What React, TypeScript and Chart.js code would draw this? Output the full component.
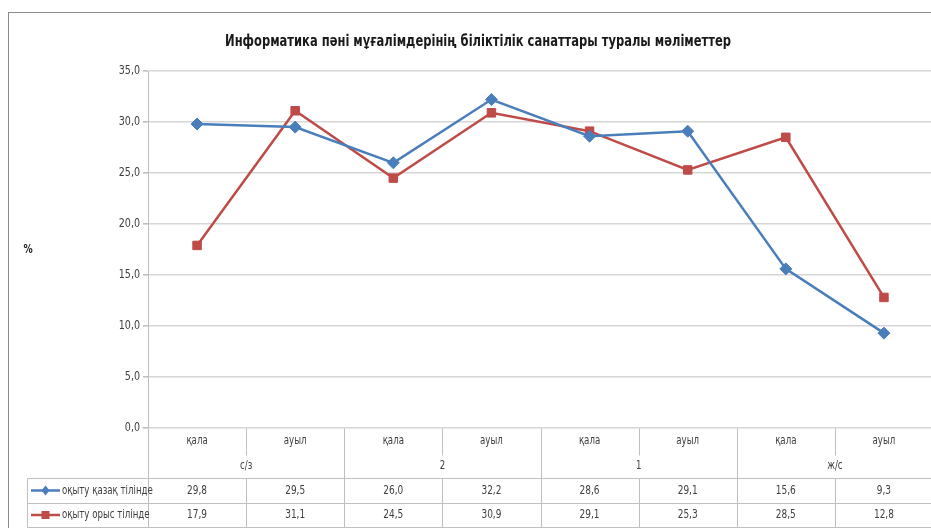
import React, { useEffect, useRef } from "react";
import { Chart, registerables } from "chart.js";

Chart.register(...registerables);

const title = "Информатика пәні мұғалімдерінің біліктілік санаттары туралы мәліметтер";
const categories = ["қала", "ауыл", "қала", "ауыл", "қала", "ауыл", "қала", "ауыл"];
const groups = ["с/з", "2", "1", "ж/с"];
const seriesNames = ["оқыту қазақ тілінде", "оқыту орыс тілінде"];
const kazakh = [29.8, 29.5, 26.0, 32.2, 28.6, 29.1, 15.6, 9.3];
const russian = [17.9, 31.1, 24.5, 30.9, 29.1, 25.3, 28.5, 12.8];
const yTicks = [0, 5, 10, 15, 20, 25, 30, 35];

const FONT = '"Liberation Sans Narrow", "DejaVu Sans Condensed", "Liberation Sans", sans-serif';
const BLUE = "#4a7ebb";
const RED = "#be4b48";
const LINE = "#bfbfbf";
const TEXT = "#404040";

const fmt = (v: number) => v.toFixed(1).replace(".", ",");

function drawText(
  ctx: CanvasRenderingContext2D,
  text: string,
  x: number,
  y: number,
  sx: number,
  align: CanvasTextAlign
) {
  ctx.save();
  ctx.translate(x, y);
  ctx.scale(sx, 1);
  ctx.textAlign = align;
  ctx.textBaseline = "middle";
  ctx.fillText(text, 0, 0);
  ctx.restore();
}

const tablePlugin = {
  id: "tbl",
  afterDraw(chart: any) {
    const { ctx, chartArea, scales } = chart;
    const x = scales.x;
    const y = scales.y;
    const left = chartArea.left;
    const right = chartArea.right;
    const bottom = chartArea.bottom;
    const n = categories.length;
    const edge = (i: number) =>
      i === 0 ? left : i === n ? right : (x.getPixelForValue(i - 1) + x.getPixelForValue(i)) / 2;
    const r1 = bottom + 27;
    const r2 = bottom + 50;
    const r3 = r2 + 25;
    const r4 = r3 + 24;
    const tableLeft = 27;
    const SX = 0.8;

    ctx.save();
    ctx.strokeStyle = "#8c8c8c";
    ctx.lineWidth = 1;
    ctx.strokeRect(8.5, 12.5, 1000, 1000);

    ctx.fillStyle = "#1a1a1a";
    ctx.font = `bold 16px ${FONT}`;
    drawText(ctx, title, 478, 42, 0.8, "center");

    ctx.font = `bold 12px ${FONT}`;
    drawText(ctx, "%", 28, 250, 0.85, "center");

    ctx.fillStyle = TEXT;
    ctx.font = `12.5px ${FONT}`;
    yTicks.forEach((v) => {
      drawText(ctx, fmt(v), 140, y.getPixelForValue(v), 0.85, "right");
    });

    ctx.strokeStyle = LINE;
    ctx.lineWidth = 1;
    const line = (x1: number, y1: number, x2: number, y2: number) => {
      ctx.beginPath();
      ctx.moveTo(Math.round(x1) + 0.5, Math.round(y1) + 0.5);
      ctx.lineTo(Math.round(x2) + 0.5, Math.round(y2) + 0.5);
      ctx.stroke();
    };
    for (let i = 0; i <= n; i++) {
      const ex = edge(i);
      if (i % 2 === 0) line(ex, bottom, ex, r4);
      else {
        line(ex, bottom, ex, r1);
        line(ex, r2, ex, r4);
      }
    }
    line(tableLeft, r2, right + 5, r2);
    line(tableLeft, r3, right + 5, r3);
    line(tableLeft, r4, right + 5, r4);
    line(tableLeft, r2, tableLeft, r4);

    ctx.fillStyle = TEXT;
    ctx.font = `12px ${FONT}`;
    categories.forEach((c, i) => {
      drawText(ctx, c, x.getPixelForValue(i), bottom + 13, SX, "center");
    });
    groups.forEach((g, gi) => {
      drawText(ctx, g, edge(gi * 2 + 1), bottom + 38, SX, "center");
    });

    const rows = [kazakh, russian];
    const colors = [BLUE, RED];
    rows.forEach((vals, ri) => {
      const cy = ri === 0 ? (r2 + r3) / 2 : (r3 + r4) / 2;
      ctx.fillStyle = TEXT;
      ctx.font = `12.5px ${FONT}`;
      vals.forEach((v, i) => {
        drawText(ctx, fmt(v), x.getPixelForValue(i), cy, SX, "center");
      });
      ctx.strokeStyle = colors[ri];
      ctx.lineWidth = 2.5;
      ctx.beginPath();
      ctx.moveTo(31, cy);
      ctx.lineTo(60, cy);
      ctx.stroke();
      ctx.fillStyle = colors[ri];
      if (ri === 0) {
        ctx.beginPath();
        ctx.moveTo(45.5, cy - 5);
        ctx.lineTo(49.5, cy);
        ctx.lineTo(45.5, cy + 5);
        ctx.lineTo(41.5, cy);
        ctx.closePath();
        ctx.fill();
      } else {
        ctx.fillRect(41.5, cy - 4, 8, 8);
      }
      ctx.fillStyle = TEXT;
      ctx.font = `12px ${FONT}`;
      drawText(ctx, seriesNames[ri], 62, cy, SX, "left");
      ctx.strokeStyle = LINE;
      ctx.lineWidth = 1;
    });
    ctx.restore();
  },
};

export default function App() {
  const ref = useRef<HTMLCanvasElement | null>(null);
  useEffect(() => {
    if (!ref.current) return;
    const chart = new Chart(ref.current, {
      type: "line",
      data: {
        labels: categories,
        datasets: [
          {
            label: seriesNames[0],
            data: kazakh,
            borderColor: BLUE,
            backgroundColor: BLUE,
            borderWidth: 2.5,
            pointStyle: "rectRot",
            pointRadius: 6,
            pointBorderWidth: 1,
            tension: 0,
          },
          {
            label: seriesNames[1],
            data: russian,
            borderColor: RED,
            backgroundColor: RED,
            borderWidth: 2.5,
            pointStyle: "rect",
            pointRadius: 6,
            pointBorderWidth: 1,
            tension: 0,
          },
        ],
      },
      options: {
        responsive: true,
        maintainAspectRatio: false,
        animation: false,
        layout: { padding: { top: 71, bottom: 100, left: 0, right: 0 } },
        plugins: {
          legend: { display: false },
          title: { display: false },
          tooltip: { enabled: false },
        },
        scales: {
          x: { display: false, offset: true },
          y: {
            min: 0,
            max: 35,
            afterBuildTicks: (s: any) => {
              s.ticks = yTicks.map((v) => ({ value: v }));
            },
            afterFit: (s: any) => {
              s.width = 148;
            },
            ticks: { display: false },
            grid: { color: "#d6d6d6", lineWidth: 1.6, tickLength: 5, tickColor: LINE },
            border: { color: LINE },
          },
        },
      },
      plugins: [tablePlugin],
    });
    return () => chart.destroy();
  }, []);
  return (
    <div style={{ position: "fixed", left: 0, top: 0, width: 931, height: 528, overflow: "hidden", background: "#fff" }}>
      <div style={{ position: "absolute", left: 0, top: 0, width: 940, height: 528 }}>
        <canvas ref={ref} style={{ display: "block" }} />
      </div>
    </div>
  );
}
